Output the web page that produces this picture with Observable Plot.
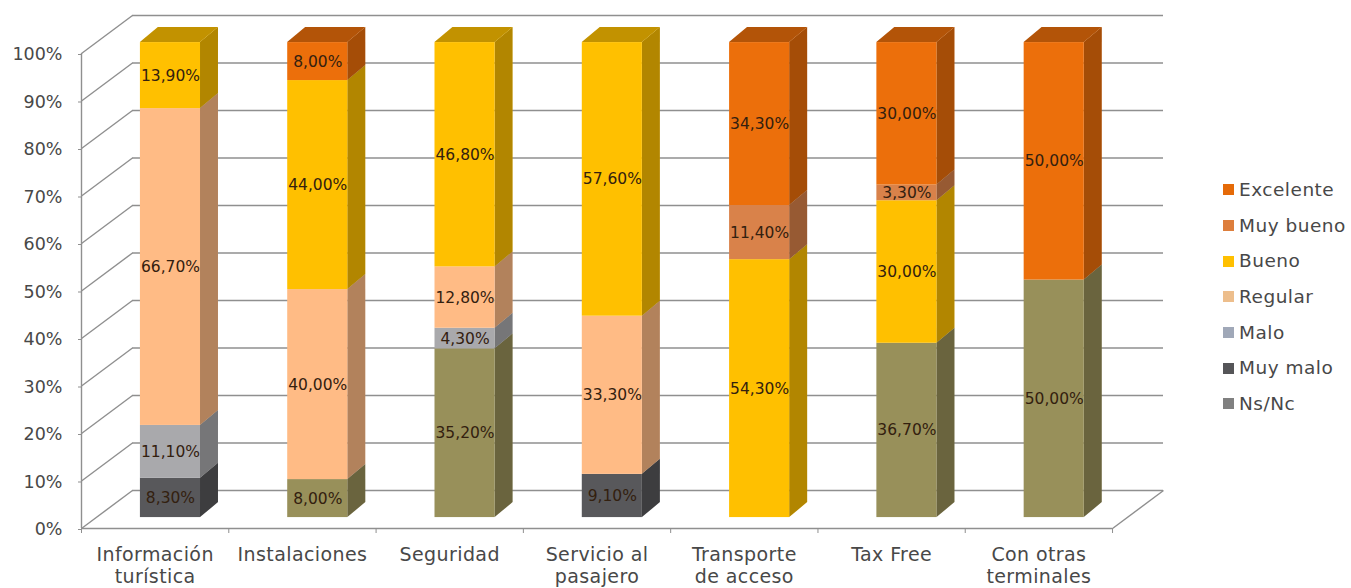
<!DOCTYPE html>
<html><head><meta charset="utf-8">
<script src="https://cdn.jsdelivr.net/npm/d3@7"></script>
<script src="https://cdn.jsdelivr.net/npm/@observablehq/plot@0.6"></script>
<style>
html,body{margin:0;padding:0;background:#fff}
#root{position:relative;width:1351px;height:588px;overflow:hidden;font-family:"DejaVu Sans",sans-serif}
#legend{position:absolute;left:1223px;top:172px;color:#484848;font-size:18.5px;letter-spacing:.5px;line-height:35.7px}
#legend div{display:flex;align-items:center;height:35.7px;white-space:nowrap}
#legend i{display:block;width:11px;height:11px;margin-right:5px}
g[aria-label="x-axis tick label"] text{letter-spacing:.4px}
</style></head><body><div id="root"></div>
<script>
const categories = ["Información\nturística","Instalaciones","Seguridad","Servicio al\npasajero","Transporte\nde acceso","Tax Free","Con otras\nterminales"];
const levels = ["Ns/Nc","Muy malo","Malo","Regular","Bueno","Muy bueno","Excelente"];
const nsnc      = [0, 8, 35.2, 0, 0, 36.7, 50];
const muyMalo   = [8.3, 0, 0, 9.1, 0, 0, 0];
const malo      = [11.1, 0, 4.3, 0, 0, 0, 0];
const regular   = [66.7, 40, 12.8, 33.3, 0, 0, 0];
const bueno     = [13.9, 44, 46.8, 57.6, 54.3, 30, 0];
const muyBueno  = [0, 0, 0, 0, 11.4, 3.3, 0];
const excelente = [0, 8, 0, 0, 34.3, 30, 50];
const seriesValues = [nsnc, muyMalo, malo, regular, bueno, muyBueno, excelente];
const barColors = ["#98905A","#58585B","#A9A9AC","#FFBB85","#FFC000","#D9824A","#EC6F0B"];
const legendColors = ["#808080","#555558","#A0A8B8","#EDBE8C","#FFC000","#DD7E3C","#E56A08"];
const yTicks = [0,10,20,30,40,50,60,70,80,90,100];
const wallX = 0.346, wallY = 8;
const barL = 0.4, barR = 0.808, barBase = 2.3, sideX = 0.122, sideY = 3.16;

const segs = [];
categories.forEach((c,i)=>{
  const total = d3.sum(seriesValues, s=>s[i]);
  let acc = 0;
  levels.forEach((lv,k)=>{
    const v = seriesValues[k][i];
    if(!v) return;
    const y0 = acc/total*100, y1 = (acc+v)/total*100;
    acc += v;
    segs.push({i, level:lv, v, y0:y0+barBase, y1:y1+barBase, xl:i+barL, xr:i+barR, top:acc>=total-1e-6});
  });
});
const sides = segs.flatMap((s,id)=>[
  {id, level:s.level, x:s.xr, y1:s.y0, y2:s.y1},
  {id, level:s.level, x:s.xr+sideX, y1:s.y0+sideY, y2:s.y1+sideY}
]);
const tops = segs.filter(s=>s.top).flatMap(s=>[
  {id:s.i, level:s.level, x1:s.xl, x2:s.xr, y:s.y1},
  {id:s.i, level:s.level, x1:s.xl+sideX, x2:s.xr+sideX, y:s.y1+sideY}
]);
const pct = v=>v.toFixed(2).replace(".",",")+"%";
const grid = {stroke:"#8f8f8f", strokeWidth:1.4};
const chart = Plot.plot({
  width:1351, height:588, marginLeft:81, marginRight:188, marginTop:15, marginBottom:60,
  style:{fontFamily:'"DejaVu Sans",sans-serif', background:"#fff"},
  x:{domain:[0,categories.length+wallX], axis:null},
  y:{domain:[0,100+wallY], axis:null},
  color:{domain:levels, range:barColors},
  marks:[
    Plot.ruleY(yTicks,{y:d=>d+wallY, x1:wallX, x2:categories.length+wallX, ...grid}),
    Plot.link(yTicks,{x1:0, y1:d=>d, x2:wallX, y2:d=>d+wallY, ...grid}),
    Plot.link([0],{x1:categories.length, y1:0, x2:categories.length+wallX, y2:wallY, ...grid}),
    Plot.ruleX([0],{y1:0,y2:100,...grid}),
    Plot.ruleY([0],{x1:0,x2:categories.length,...grid}),
    Plot.axisY({ticks:yTicks, tickFormat:d=>d+"%", tickSize:3, tickPadding:16, fontSize:17.5, color:"#484848", stroke:"#8f8f8f", dy:1}),
    Plot.axisX({ticks:d3.range(0,categories.length+1), tickFormat:()=>"", tickSize:5, stroke:"#8f8f8f"}),
    Plot.axisX({ticks:categories.map((c,i)=>i+0.5), tickFormat:d=>categories[d-0.5], tickSize:0, tickPadding:16, lineHeight:1.2, fontSize:19, color:"#484848"}),
    Plot.area(sides,{x1:"x",x2:"x",y1:"y1",y2:"y2",z:"id",fill:"level"}),
    Plot.area(sides,{x1:"x",x2:"x",y1:"y1",y2:"y2",z:"id",fill:"#000",fillOpacity:0.3}),
    Plot.area(tops,{x1:"x1",x2:"x2",y1:"y",y2:"y",z:"id",fill:"level"}),
    Plot.area(tops,{x1:"x1",x2:"x2",y1:"y",y2:"y",z:"id",fill:"#000",fillOpacity:0.24}),
    Plot.rect(segs,{x1:"xl",x2:"xr",y1:"y0",y2:"y1",fill:"level"}),
    Plot.text(segs,{x:d=>(d.xl+d.xr)/2, y:d=>(d.y0+d.y1)/2, text:d=>pct(d.v), fontSize:15.5, fill:"#33200f"})
  ]
});
const root = document.getElementById("root");
root.appendChild(chart);
const legend = document.createElement("div");
legend.id = "legend";
[...levels].reverse().forEach(lv=>{
  const row = document.createElement("div");
  const sw = document.createElement("i");
  sw.style.background = legendColors[levels.indexOf(lv)];
  row.appendChild(sw);
  row.appendChild(document.createTextNode(lv));
  legend.appendChild(row);
});
root.appendChild(legend);
</script></body></html>
